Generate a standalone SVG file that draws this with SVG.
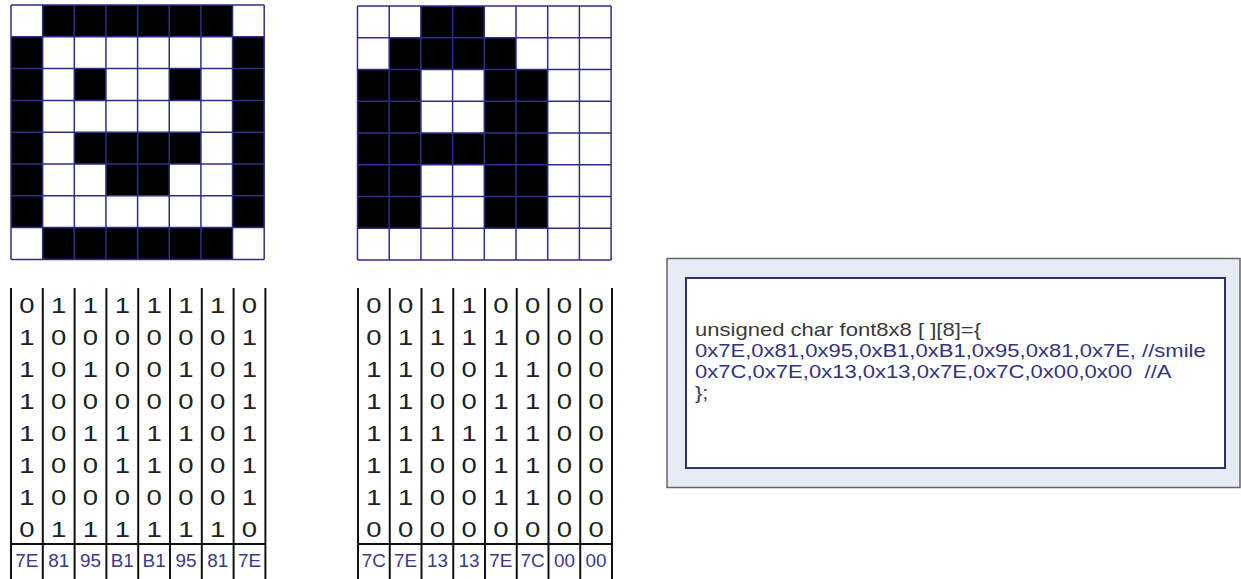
<svg xmlns="http://www.w3.org/2000/svg" width="1241" height="579" viewBox="0 0 1241 579">
<style>
.bg{fill:#fff}
.blk{fill:#000}
.gl{fill:none;stroke:#2e2e86;stroke-width:1.5}
.tl{fill:none;stroke:#111;stroke-width:2}
.bit{font-family:"Liberation Sans",Arial,sans-serif;font-size:22px;fill:#222;text-anchor:middle}
.hex{font-family:"Liberation Sans",Arial,sans-serif;font-size:18px;fill:#3a3a8c;text-anchor:middle}
.code{font-family:"Liberation Sans",Arial,sans-serif;font-size:17.5px;white-space:pre}
.c1{fill:#3a3a3a}
.c2{fill:#33337f}
</style>
<rect width="1241" height="579" fill="#fff"/>

<g id="smile-grid" transform="translate(11,5)">
<rect class="bg" x="0" y="0" width="253.2" height="254.4"/>
<rect class="blk" x="31.65" y="0" width="189.9" height="31.8"/>
<rect class="blk" x="31.65" y="222.6" width="189.9" height="31.8"/>
<rect class="blk" x="0" y="31.8" width="31.65" height="190.8"/>
<rect class="blk" x="221.55" y="31.8" width="31.65" height="190.8"/>
<rect class="blk" x="63.3" y="63.6" width="31.65" height="31.8"/>
<rect class="blk" x="158.25" y="63.6" width="31.65" height="31.8"/>
<rect class="blk" x="63.3" y="127.2" width="126.6" height="31.8"/>
<rect class="blk" x="94.95" y="159" width="63.3" height="31.8"/>
<path class="gl" d="M0,0H253.2M0,31.8H253.2M0,63.6H253.2M0,95.4H253.2M0,127.2H253.2M0,159H253.2M0,190.8H253.2M0,222.6H253.2M0,254.4H253.2M0,0V254.4M31.65,0V254.4M63.3,0V254.4M94.95,0V254.4M126.6,0V254.4M158.25,0V254.4M189.9,0V254.4M221.55,0V254.4M253.2,0V254.4"/>
</g>

<g id="a-grid" transform="translate(357.5,6)">
<rect class="bg" x="0" y="0" width="253.6" height="254"/>
<rect class="blk" x="63.4" y="0" width="63.4" height="31.75"/>
<rect class="blk" x="31.7" y="31.75" width="126.8" height="31.75"/>
<rect class="blk" x="0" y="63.5" width="63.4" height="158.75"/>
<rect class="blk" x="126.8" y="63.5" width="63.4" height="158.75"/>
<rect class="blk" x="63.4" y="127" width="63.4" height="31.75"/>
<path class="gl" d="M0,0H253.6M0,31.75H253.6M0,63.5H253.6M0,95.25H253.6M0,127H253.6M0,158.75H253.6M0,190.5H253.6M0,222.25H253.6M0,254H253.6M0,0V254M31.7,0V254M63.4,0V254M95.1,0V254M126.8,0V254M158.5,0V254M190.2,0V254M221.9,0V254M253.6,0V254"/>
</g>

<g id="smile-bits">
<path class="tl" d="M11,288V579M42.8,288V579M74.6,288V579M106.4,288V579M138.2,288V579M170,288V579M201.8,288V579M233.6,288V579M265.4,288V579M11,544H265.4"/>
<g transform="translate(26.9,0) scale(1.25,1)"><text class="bit"><tspan x="0" y="313">0</tspan><tspan x="0" y="345">1</tspan><tspan x="0" y="377">1</tspan><tspan x="0" y="409">1</tspan><tspan x="0" y="441">1</tspan><tspan x="0" y="473">1</tspan><tspan x="0" y="505">1</tspan><tspan x="0" y="537">0</tspan></text></g>
<g transform="translate(58.7,0) scale(1.25,1)"><text class="bit"><tspan x="0" y="313">1</tspan><tspan x="0" y="345">0</tspan><tspan x="0" y="377">0</tspan><tspan x="0" y="409">0</tspan><tspan x="0" y="441">0</tspan><tspan x="0" y="473">0</tspan><tspan x="0" y="505">0</tspan><tspan x="0" y="537">1</tspan></text></g>
<g transform="translate(90.5,0) scale(1.25,1)"><text class="bit"><tspan x="0" y="313">1</tspan><tspan x="0" y="345">0</tspan><tspan x="0" y="377">1</tspan><tspan x="0" y="409">0</tspan><tspan x="0" y="441">1</tspan><tspan x="0" y="473">0</tspan><tspan x="0" y="505">0</tspan><tspan x="0" y="537">1</tspan></text></g>
<g transform="translate(122.3,0) scale(1.25,1)"><text class="bit"><tspan x="0" y="313">1</tspan><tspan x="0" y="345">0</tspan><tspan x="0" y="377">0</tspan><tspan x="0" y="409">0</tspan><tspan x="0" y="441">1</tspan><tspan x="0" y="473">1</tspan><tspan x="0" y="505">0</tspan><tspan x="0" y="537">1</tspan></text></g>
<g transform="translate(154.1,0) scale(1.25,1)"><text class="bit"><tspan x="0" y="313">1</tspan><tspan x="0" y="345">0</tspan><tspan x="0" y="377">0</tspan><tspan x="0" y="409">0</tspan><tspan x="0" y="441">1</tspan><tspan x="0" y="473">1</tspan><tspan x="0" y="505">0</tspan><tspan x="0" y="537">1</tspan></text></g>
<g transform="translate(185.9,0) scale(1.25,1)"><text class="bit"><tspan x="0" y="313">1</tspan><tspan x="0" y="345">0</tspan><tspan x="0" y="377">1</tspan><tspan x="0" y="409">0</tspan><tspan x="0" y="441">1</tspan><tspan x="0" y="473">0</tspan><tspan x="0" y="505">0</tspan><tspan x="0" y="537">1</tspan></text></g>
<g transform="translate(217.7,0) scale(1.25,1)"><text class="bit"><tspan x="0" y="313">1</tspan><tspan x="0" y="345">0</tspan><tspan x="0" y="377">0</tspan><tspan x="0" y="409">0</tspan><tspan x="0" y="441">0</tspan><tspan x="0" y="473">0</tspan><tspan x="0" y="505">0</tspan><tspan x="0" y="537">1</tspan></text></g>
<g transform="translate(249.5,0) scale(1.25,1)"><text class="bit"><tspan x="0" y="313">0</tspan><tspan x="0" y="345">1</tspan><tspan x="0" y="377">1</tspan><tspan x="0" y="409">1</tspan><tspan x="0" y="441">1</tspan><tspan x="0" y="473">1</tspan><tspan x="0" y="505">1</tspan><tspan x="0" y="537">0</tspan></text></g>
<g transform="translate(0,567)">
<text class="hex" transform="translate(26.9,0) scale(1.05,1)">7E</text>
<text class="hex" transform="translate(58.7,0) scale(1.05,1)">81</text>
<text class="hex" transform="translate(90.5,0) scale(1.05,1)">95</text>
<text class="hex" transform="translate(122.3,0) scale(1.05,1)">B1</text>
<text class="hex" transform="translate(154.1,0) scale(1.05,1)">B1</text>
<text class="hex" transform="translate(185.9,0) scale(1.05,1)">95</text>
<text class="hex" transform="translate(217.7,0) scale(1.05,1)">81</text>
<text class="hex" transform="translate(249.5,0) scale(1.05,1)">7E</text>
</g>
</g>

<g id="a-bits">
<path class="tl" d="M358,288V579M389.75,288V579M421.5,288V579M453.25,288V579M485,288V579M516.75,288V579M548.5,288V579M580.25,288V579M612,288V579M358,544H612"/>
<g transform="translate(373.9,0) scale(1.25,1)"><text class="bit"><tspan x="0" y="313">0</tspan><tspan x="0" y="345">0</tspan><tspan x="0" y="377">1</tspan><tspan x="0" y="409">1</tspan><tspan x="0" y="441">1</tspan><tspan x="0" y="473">1</tspan><tspan x="0" y="505">1</tspan><tspan x="0" y="537">0</tspan></text></g>
<g transform="translate(405.6,0) scale(1.25,1)"><text class="bit"><tspan x="0" y="313">0</tspan><tspan x="0" y="345">1</tspan><tspan x="0" y="377">1</tspan><tspan x="0" y="409">1</tspan><tspan x="0" y="441">1</tspan><tspan x="0" y="473">1</tspan><tspan x="0" y="505">1</tspan><tspan x="0" y="537">0</tspan></text></g>
<g transform="translate(437.4,0) scale(1.25,1)"><text class="bit"><tspan x="0" y="313">1</tspan><tspan x="0" y="345">1</tspan><tspan x="0" y="377">0</tspan><tspan x="0" y="409">0</tspan><tspan x="0" y="441">1</tspan><tspan x="0" y="473">0</tspan><tspan x="0" y="505">0</tspan><tspan x="0" y="537">0</tspan></text></g>
<g transform="translate(469.1,0) scale(1.25,1)"><text class="bit"><tspan x="0" y="313">1</tspan><tspan x="0" y="345">1</tspan><tspan x="0" y="377">0</tspan><tspan x="0" y="409">0</tspan><tspan x="0" y="441">1</tspan><tspan x="0" y="473">0</tspan><tspan x="0" y="505">0</tspan><tspan x="0" y="537">0</tspan></text></g>
<g transform="translate(500.9,0) scale(1.25,1)"><text class="bit"><tspan x="0" y="313">0</tspan><tspan x="0" y="345">1</tspan><tspan x="0" y="377">1</tspan><tspan x="0" y="409">1</tspan><tspan x="0" y="441">1</tspan><tspan x="0" y="473">1</tspan><tspan x="0" y="505">1</tspan><tspan x="0" y="537">0</tspan></text></g>
<g transform="translate(532.6,0) scale(1.25,1)"><text class="bit"><tspan x="0" y="313">0</tspan><tspan x="0" y="345">0</tspan><tspan x="0" y="377">1</tspan><tspan x="0" y="409">1</tspan><tspan x="0" y="441">1</tspan><tspan x="0" y="473">1</tspan><tspan x="0" y="505">1</tspan><tspan x="0" y="537">0</tspan></text></g>
<g transform="translate(564.4,0) scale(1.25,1)"><text class="bit"><tspan x="0" y="313">0</tspan><tspan x="0" y="345">0</tspan><tspan x="0" y="377">0</tspan><tspan x="0" y="409">0</tspan><tspan x="0" y="441">0</tspan><tspan x="0" y="473">0</tspan><tspan x="0" y="505">0</tspan><tspan x="0" y="537">0</tspan></text></g>
<g transform="translate(596.1,0) scale(1.25,1)"><text class="bit"><tspan x="0" y="313">0</tspan><tspan x="0" y="345">0</tspan><tspan x="0" y="377">0</tspan><tspan x="0" y="409">0</tspan><tspan x="0" y="441">0</tspan><tspan x="0" y="473">0</tspan><tspan x="0" y="505">0</tspan><tspan x="0" y="537">0</tspan></text></g>
<g transform="translate(0,567)">
<text class="hex" transform="translate(373.9,0) scale(1.05,1)">7C</text>
<text class="hex" transform="translate(405.6,0) scale(1.05,1)">7E</text>
<text class="hex" transform="translate(437.4,0) scale(1.05,1)">13</text>
<text class="hex" transform="translate(469.1,0) scale(1.05,1)">13</text>
<text class="hex" transform="translate(500.9,0) scale(1.05,1)">7E</text>
<text class="hex" transform="translate(532.6,0) scale(1.05,1)">7C</text>
<text class="hex" transform="translate(564.4,0) scale(1.05,1)">00</text>
<text class="hex" transform="translate(596.1,0) scale(1.05,1)">00</text>
</g>
</g>

<g id="code-box">
<rect x="667" y="258.5" width="573" height="229" fill="#e6ecf6" stroke="#666" stroke-width="1.5"/>
<rect x="686" y="278" width="539" height="190" fill="#fff" stroke="#303070" stroke-width="2"/>
<g transform="translate(695,0) scale(1.26,1)">
<text class="code c1" x="0" y="336">unsigned char font8x8 [ ][8]={</text>
<text class="code c2" x="0" y="357">0x7E,0x81,0x95,0xB1,0xB1,0x95,0x81,0x7E, //smile</text>
<text class="code c2" x="0" y="378">0x7C,0x7E,0x13,0x13,0x7E,0x7C,0x00,0x00  //A</text>
<text class="code c1" x="0" y="399">};</text>
</g>
</g>

<g id="connectors"/>
</svg>
